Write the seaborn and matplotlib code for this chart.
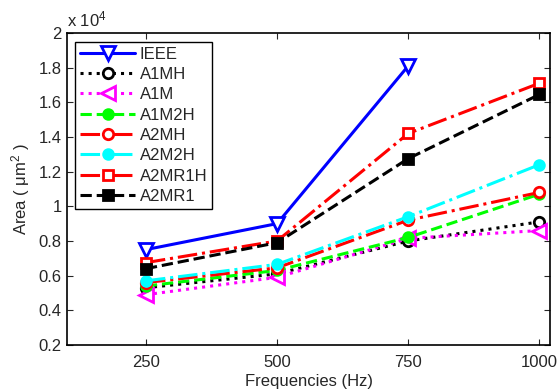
import numpy as np
import pandas as pd
import matplotlib
matplotlib.use("Agg")
import matplotlib.pyplot as plt
import seaborn as sns

# Frequencies (Hz) and area values (in units of 1e4 um^2)
freqs = [250, 500, 750, 1000]
ieee   = [0.75, 0.90, 1.81, np.nan]
a1mh   = [0.53, 0.61, 0.80, 0.91]
a1m    = [0.49, 0.59, 0.815, 0.86]
a1m2h  = [0.54, 0.63, 0.82, 1.07]
a2mh   = [0.56, 0.645, 0.92, 1.08]
a2m2h  = [0.57, 0.665, 0.94, 1.24]
a2mr1h = [0.675, 0.80, 1.42, 1.71]
a2mr1  = [0.64, 0.79, 1.275, 1.645]

series_names = ["IEEE", "A1MH", "A1M", "A1M2H", "A2MH", "A2M2H", "A2MR1H", "A2MR1"]
series_vals = [ieee, a1mh, a1m, a1m2h, a2mh, a2m2h, a2mr1h, a2mr1]

styles = {
    "IEEE":   dict(color="#0000ff", ls="-",  marker="v", mfc="white", ms=10.5),
    "A1MH":   dict(color="black",   ls=":",  marker="o", mfc="white", ms=7.5),
    "A1M":    dict(color="#ff00ff", ls=":",  marker="<", mfc="white", ms=10.5),
    "A1M2H":  dict(color="#00ff00", ls="--", marker="o", mfc="#00ff00", ms=7),
    "A2MH":   dict(color="#ff0000", ls="-.", marker="o", mfc="white", ms=7.5),
    "A2M2H":  dict(color="#00ffff", ls="-.", marker="o", mfc="#00ffff", ms=7),
    "A2MR1H": dict(color="#ff0000", ls="-.", marker="s", mfc="white", ms=7.5),
    "A2MR1":  dict(color="black",   ls="--", marker="s", mfc="black", ms=7.5),
}

rows = []
for name, vals in zip(series_names, series_vals):
    for f, v in zip(freqs, vals):
        rows.append({"freq": f, "area": v, "series": name})
df = pd.DataFrame(rows)

sns.set_style("white")
plt.rcParams["font.family"] = ["Liberation Sans", "DejaVu Sans"]
plt.rcParams["mathtext.fontset"] = "custom"
plt.rcParams["mathtext.rm"] = "Liberation Sans"
plt.rcParams["mathtext.it"] = "Liberation Sans"

fig = plt.figure(figsize=(5.6, 3.92), dpi=100)
ax = fig.add_axes([0.12, 0.12, 0.862, 0.796])

for name in series_names:
    st = styles[name]
    sub = df[df["series"] == name].dropna()
    sns.lineplot(data=sub, x="freq", y="area", ax=ax, color=st["color"],
                 linestyle=st["ls"], linewidth=2.2, marker=st["marker"],
                 markersize=st["ms"], markerfacecolor=st["mfc"],
                 markeredgecolor=st["color"], markeredgewidth=2,
                 label=name, legend=True)

ax.set_xlim(100, 1020)
ax.set_ylim(0.2, 2.0)
ax.set_xticks(freqs)
ax.set_yticks(np.arange(0.2, 2.01, 0.2))
ax.set_yticklabels(["0.2", "0.4", "0.6", "0.8", "1", "1.2", "1.4", "1.6", "1.8", "2"])
ax.tick_params(direction="in", length=4, width=0.8, labelsize=12,
               top=True, right=True, bottom=True, left=True, pad=4)
ax.tick_params(axis="x", pad=7)
for sp in ax.spines.values():
    sp.set_linewidth(1.2)
    sp.set_color("black")

ax.set_xlabel("Frequencies (Hz)", fontsize=12, labelpad=3)
ax.set_ylabel(r"Area ( $\mathregular{\mu m^2}$ )", fontsize=12, labelpad=5)
ax.text(0.0, 1.01, r"x 10$^{4}$", transform=ax.transAxes, fontsize=12,
        ha="left", va="bottom")

leg = ax.legend(loc="upper left", bbox_to_anchor=(0.017, 0.972), fontsize=12,
                handlelength=3.3, labelspacing=0.32, borderpad=0.3,
                handletextpad=0.25, fancybox=False, framealpha=1,
                edgecolor="black", borderaxespad=0)
leg.get_frame().set_linewidth(1.0)

fig.savefig("out.png", dpi=100)
